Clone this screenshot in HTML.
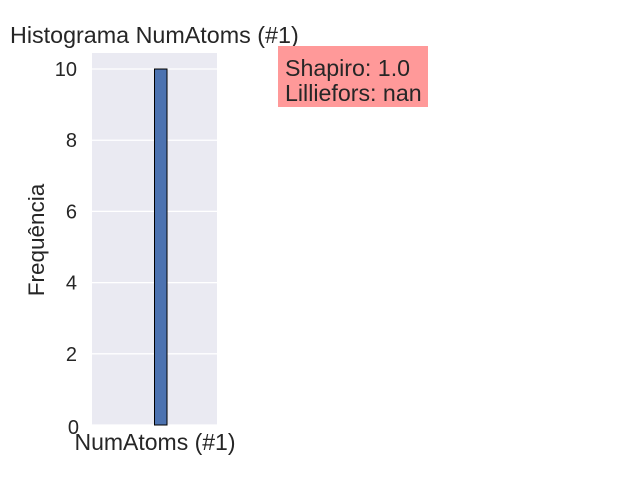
<!DOCTYPE html>
<html><head><meta charset="utf-8"><style>
body{margin:0;background:#fff;}
svg{display:block;font-family:"Liberation Sans","DejaVu Sans",sans-serif;}
</style></head><body>
<svg id="chart" width="640" height="480" viewBox="0 0 640 480">
<rect x="0" y="0" width="640" height="480" fill="#fff"/>
<rect x="92" y="53" width="125" height="372" fill="#eaeaf2"/>
<g id="grid"></g>
<g id="bars"></g>
<g id="yticks"></g>
<text x="10" y="43" font-size="23.3" fill="#262626">Histograma NumAtoms (#1)</text>
<text x="155" y="450" font-size="23" fill="#262626" text-anchor="middle">NumAtoms (#1)</text>
<text transform="translate(44,240) rotate(-90)" font-size="22.5" fill="#262626" text-anchor="middle">Frequência</text>
<g>
<rect x="278" y="46" width="150" height="61" fill="#ff9999"/>
<text x="285" y="76" font-size="23.2" fill="#262626">Shapiro: 1.0</text>
<text x="285" y="101" font-size="23.2" fill="#262626">Lilliefors: nan</text>
</g>
</svg>
<script>
const binStarts=[0.5];
const binEnds=[0.6];
const counts=[10];
const yTicks=[0,2,4,6,8,10];
const X0=92,X1=217,Y0=425,Y1=53;
const xDom=[0,1],yDom=[0,10.45];
function xs(v){return X0+(v-xDom[0])/(xDom[1]-xDom[0])*(X1-X0);}
function ys(v){return Y0-(v-yDom[0])/(yDom[1]-yDom[0])*(Y0-Y1);}
const NS="http://www.w3.org/2000/svg";
const grid=document.getElementById('grid'),yt=document.getElementById('yticks'),bars=document.getElementById('bars');
yTicks.forEach(t=>{
  const l=document.createElementNS(NS,'line');
  l.setAttribute('x1',X0);l.setAttribute('x2',X1);l.setAttribute('y1',ys(t));l.setAttribute('y2',ys(t));
  l.setAttribute('stroke','#fff');l.setAttribute('stroke-width','1.3');
  
  
  grid.appendChild(l);
  const tx=document.createElementNS(NS,'text');
  tx.setAttribute('x',t===0?79:77);tx.setAttribute('y',ys(t)+(t===0?9:7));tx.setAttribute('text-anchor','end');
  tx.setAttribute('font-size','20');tx.setAttribute('fill','#262626');tx.textContent=t;
  
  
  yt.appendChild(tx);
});
counts.forEach((c,i)=>{
  const r=document.createElementNS(NS,'rect');
  const x=xs(binStarts[i]),w=xs(binEnds[i])-x;
  r.setAttribute('x',x);r.setAttribute('y',ys(c));r.setAttribute('width',w);r.setAttribute('height',ys(0)-ys(c));
  r.setAttribute('fill','#4c72b0');r.setAttribute('stroke','#000');r.setAttribute('stroke-width','1');
  
  
  bars.appendChild(r);
});
</script>
</body></html>
